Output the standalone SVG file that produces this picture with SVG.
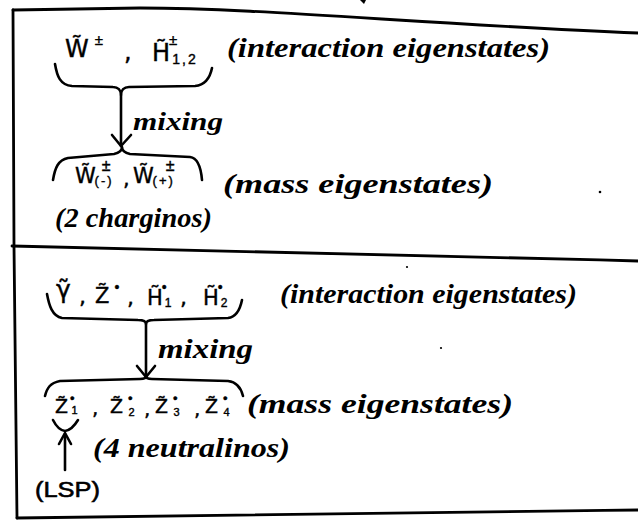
<svg xmlns="http://www.w3.org/2000/svg" width="638" height="521" viewBox="0 0 638 521">
<style>
.ln{fill:none;stroke:#000;stroke-width:2.6;stroke-linecap:round;stroke-linejoin:round}
.bx{fill:none;stroke:#000;stroke-width:2.8;stroke-linecap:round;stroke-linejoin:round}
.m{font-family:"DejaVu Sans","Liberation Sans",sans-serif;fill:#000;stroke:#000;stroke-width:0.4}
.s{font-family:"Liberation Sans",Arial,sans-serif}
.c{font-family:"Liberation Serif","Times New Roman",serif;font-style:italic;font-weight:bold;fill:#000}
.t{font-family:"Liberation Sans",Arial,sans-serif;fill:#000;stroke:#000;stroke-width:0.6}
</style>
<rect width="638" height="521" fill="#fff"/>
<g id="frames">
<path class="bx" d="M13,10 L140,8 C260,8 420,24 638,33"/>
<path class="bx" d="M13,10 L14,246"/>
<path class="bx" d="M12,246 C200,249 420,255 638,261"/>
<path class="bx" d="M14,246 L17,518"/>
<path class="bx" d="M17,518 C200,516 420,512 638,510"/>
<path d="M360,0 L366,0 L364,4 Z" fill="#000"/>
<circle cx="600" cy="192" r="1.3" fill="#000"/>
<circle cx="407" cy="267" r="1.1" fill="#000"/>
<circle cx="441" cy="348" r="1.1" fill="#000"/>
</g>
<g id="node-charged-interaction">
<text class="m" x="65" y="57" font-size="24">W̃<tspan class="s" font-size="15" dx="6" dy="-12">±</tspan></text>
<text class="m" x="124" y="60" font-size="24">,</text>
<text class="m" x="152" y="61" font-size="24">H̃<tspan class="s" font-size="15" dx="-1" dy="-16">±</tspan><tspan class="s" font-size="14" dx="-5" dy="19" letter-spacing="2">1,2</tspan></text>
<text class="c" x="227" y="57" font-size="28" textLength="323" lengthAdjust="spacingAndGlyphs">(interaction eigenstates)</text>
</g>
<g id="node-charged-mass">
<text class="m" x="75" y="183" font-size="21">W̃<tspan class="s" font-size="16" dx="6" dy="-12">±</tspan><tspan class="s" font-size="13" dx="-16" dy="14" letter-spacing="2">(-)</tspan></text>
<text class="m" x="123" y="186" font-size="21">,</text>
<text class="m" x="133" y="183" font-size="21">W̃<tspan class="s" font-size="16" dx="12" dy="-12">±</tspan><tspan class="s" font-size="13" dx="-22" dy="14" letter-spacing="2">(+)</tspan></text>
<text class="c" x="223" y="193" font-size="28" textLength="270" lengthAdjust="spacingAndGlyphs">(mass eigenstates)</text>
<text class="c" x="55" y="227" font-size="27" textLength="157" lengthAdjust="spacingAndGlyphs">(2 charginos)</text>
</g>
<g id="node-neutral-interaction">
<text class="m" x="56" y="298" font-size="25">γ̃</text>
<text class="m" x="79" y="304" font-size="22">,</text>
<text class="m" x="95" y="303" font-size="21">Z̃<tspan class="s" font-size="14" dx="5" dy="-11">•</tspan></text>
<text class="m" x="127" y="305" font-size="22">,</text>
<text class="m" x="147" y="305" font-size="21">H̃<tspan class="s" font-size="14" dx="-1" dy="-13">•</tspan><tspan class="s" font-size="12" dx="-2" dy="15">1</tspan></text>
<text class="m" x="180" y="305" font-size="22">,</text>
<text class="m" x="203" y="305" font-size="21">H̃<tspan class="s" font-size="14" dx="-1" dy="-13">•</tspan><tspan class="s" font-size="12" dx="-2" dy="15">2</tspan></text>
<text class="c" x="280" y="303" font-size="28" textLength="297" lengthAdjust="spacingAndGlyphs">(interaction eigenstates)</text>
</g>
<g id="node-neutral-mass">
<text class="m" x="55" y="413" font-size="19">Z̃<tspan class="s" font-size="13" dx="2" dy="-10">•</tspan><tspan class="s" font-size="11" dx="-3" dy="11">1</tspan></text>
<text class="m" x="92" y="415" font-size="20">,</text>
<text class="m" x="110" y="413" font-size="19">Z̃<tspan class="s" font-size="13" dx="5" dy="-10">•</tspan><tspan class="s" font-size="11" dx="-4" dy="13">2</tspan></text>
<text class="m" x="144" y="416" font-size="20">,</text>
<text class="m" x="155" y="413" font-size="19">Z̃<tspan class="s" font-size="13" dx="5" dy="-10">•</tspan><tspan class="s" font-size="11" dx="-4" dy="13">3</tspan></text>
<text class="m" x="194" y="416" font-size="20">,</text>
<text class="m" x="205" y="413" font-size="19">Z̃<tspan class="s" font-size="13" dx="5" dy="-10">•</tspan><tspan class="s" font-size="11" dx="-4" dy="13">4</tspan></text>
<text class="c" x="247" y="413" font-size="28" textLength="266" lengthAdjust="spacingAndGlyphs">(mass eigenstates)</text>
<text class="c" x="93" y="457" font-size="28" textLength="197" lengthAdjust="spacingAndGlyphs">(4 neutralinos)</text>
</g>
<g id="node-lsp">
<text class="t" x="35" y="497" font-size="22" textLength="65" lengthAdjust="spacingAndGlyphs">(LSP)</text>
</g>
<g id="connectors">
<path class="ln" d="M55,64 C57,76 60,85 72,86 L113,87 C118,87 121,90 121,95 C121,90 124,87 129,87 L195,86 C205,85 210,78 212,68"/>
<path class="ln" d="M121,95 L121,146"/>
<path class="ln" d="M112,135 L121,146 L131,135"/>
<text class="c" x="133" y="130" font-size="26" textLength="90" lengthAdjust="spacingAndGlyphs">mixing</text>
<path class="ln" d="M53,180 C55,168 58,160 68,158 L114,154 C119,153 122,151 122,147 C122,151 125,153 130,154 L190,157 C198,158 201,168 202,180"/>
<path class="ln" d="M47,294 C49,305 52,316 62,318 L138,320 C143,320 146,321 146,324 C146,321 149,320 154,320 L228,318 C236,317 240,310 242,300"/>
<path class="ln" d="M146,324 L146,377"/>
<path class="ln" d="M137,366 L146,377 L155,366"/>
<text class="c" x="158" y="358" font-size="28" textLength="95" lengthAdjust="spacingAndGlyphs">mixing</text>
<path class="ln" d="M45,396 C47,388 50,383 60,381 L140,379 C144,379 146,378 146,376 C146,378 148,379 152,379 L228,381 C237,382 241,388 243,396"/>
<path class="ln" d="M53,420 Q58,430 65,431 Q72,430 78,420"/>
<path class="ln" d="M65,470 L65,434"/>
<path class="ln" d="M59,444 L65,433 L71,444"/>
</g>
</svg>
